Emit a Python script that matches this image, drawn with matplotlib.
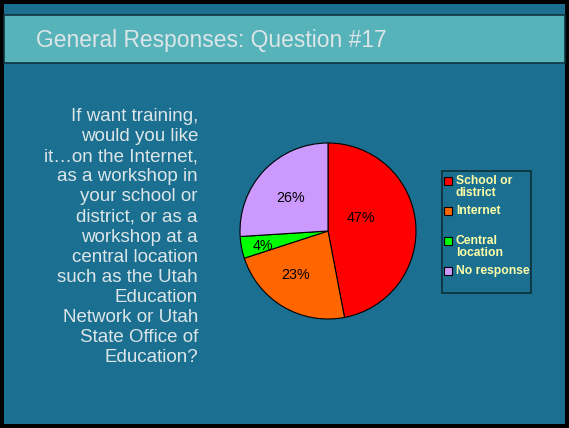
import matplotlib
matplotlib.use("Agg")
import matplotlib.pyplot as plt
from matplotlib.patches import Rectangle

categories = ["School or\ndistrict", "Internet", "Central\nlocation", "No response"]
values = [47, 23, 4, 26]
colors = ["#FF0000", "#FF6600", "#00FF00", "#CC99FF"]
title = "General Responses: Question #17"
question = ("If want training,\nwould you like\nit\u2026on the Internet,\nas a workshop in\nyour school or\n"
            "district, or as a\nworkshop at a\ncentral location\nsuch as the Utah\nEducation\n"
            "Network or Utah\nState Office of\nEducation?")

W, H = 569, 428
fig = plt.figure(figsize=(W / 100, H / 100), dpi=100)
fig.patch.set_facecolor("black")

bg = fig.add_axes([0, 0, 1, 1])
bg.set_xlim(0, W)
bg.set_ylim(H, 0)
bg.axis("off")
bg.add_patch(Rectangle((4, 4), W - 8, H - 8, facecolor="#1B6F90", edgecolor="none"))
bg.add_patch(Rectangle((4, 15), W - 8, 48, facecolor="#57B3BA", edgecolor="#10343F", linewidth=1.2))
bg.text(36, 40, title, fontsize=16.4, color="#DCE6E8", family="Liberation Sans",
        va="center", ha="left")
bg.text(198, 237, question, fontsize=13.5, color="#DCE6E8", family="Liberation Sans",
        va="center", ha="right", multialignment="right", linespacing=1.24)

# pie
cx, cy, r = 328, 231, 88
pax = fig.add_axes([(cx - r) / W, 1 - (cy + r) / H, 2 * r / W, 2 * r / H])
wedges, texts, autotexts = pax.pie(values, colors=colors, startangle=90, counterclock=False,
                                   autopct="%d%%", pctdistance=0.6,
                                   wedgeprops=dict(edgecolor="black", linewidth=0.8),
                                   textprops=dict(fontsize=10.3, family="Liberation Sans", color="black"))
pax.set_aspect("equal")
pax.set_xlim(-1.0, 1.0)
pax.set_ylim(-1.0, 1.0)
pos = [(0.37, 0.15), (-0.37, -0.5), (-0.74, -0.17), (-0.42, 0.37)]
for t, p in zip(autotexts, pos):
    t.set_position(p)

# legend box
bg.add_patch(Rectangle((442, 171), 89, 122, facecolor="none", edgecolor="#0E2F3A", linewidth=1.2))
ys = [181, 211, 241, 271]
for lab, col, y in zip(categories, colors, ys):
    bg.add_patch(Rectangle((444.5, y - 4), 8, 8, facecolor=col, edgecolor="black", linewidth=0.8))
    bg.text(456, y - 6, lab, fontsize=8.7, fontweight="bold", color="#FFFFA8",
            family="Liberation Sans", va="top", ha="left", linespacing=1.0)

fig.savefig("out.png", dpi=100, facecolor=fig.get_facecolor())
